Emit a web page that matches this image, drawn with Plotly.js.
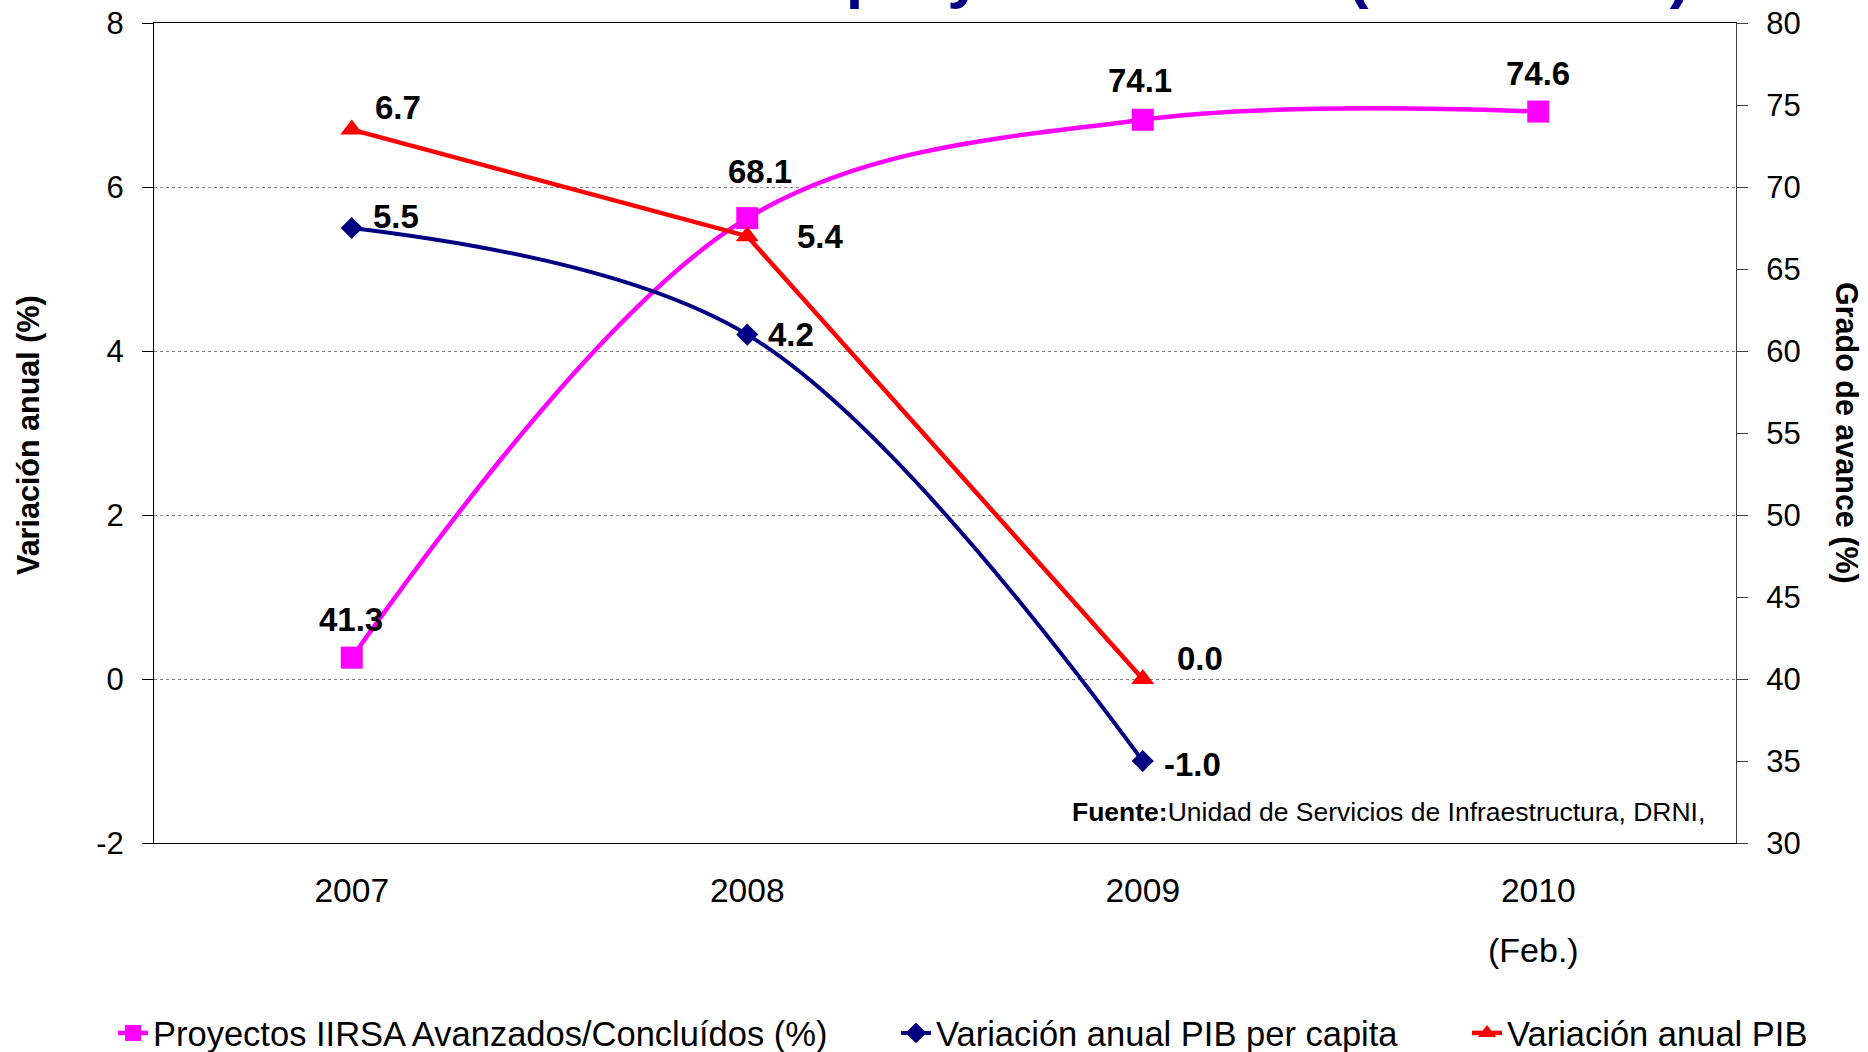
<!DOCTYPE html>
<html>
<head>
<meta charset="utf-8">
<script src="https://cdn.plot.ly/plotly-3.0.1.min.js"></script>
<style>
  html, body { margin: 0; padding: 0; background: #ffffff; }
  #chart { width: 1868px; height: 1052px; }
</style>
</head>
<body>
<div id="chart"></div>
<script>
// Years on the category axis
const years = ['2007', '2008', '2009', '2010'];

// Share of IIRSA projects advanced or concluded (%), right axis
const iirsaAvance = [41.3, 68.1, 74.1, 74.6];
// Annual change in GDP per capita (%), left axis
const pibPerCapita = [5.5, 4.2, -1.0];
// Annual change in GDP (%), left axis
const pibVariacion = [6.7, 5.4, 0.0];

// Axis ticks
const leftTicks = [-2, 0, 2, 4, 6, 8];
const rightTicks = [30, 35, 40, 45, 50, 55, 60, 65, 70, 75, 80];

const seriesNames = [
  'Proyectos IIRSA Avanzados/Concluídos (%)',
  'Variación anual PIB per capita',
  'Variación anual PIB'
];

const FONT = 'Liberation Sans, Arial, Helvetica, sans-serif';
const MAGENTA = '#FF00FF';
const NAVY = '#000080';
const RED = '#FF0000';

// Plot box in pixels (used to turn pixel positions into paper fractions)
const W = 1868, H = 1052;
const M = { l: 154, r: 132, t: 23, b: 209 };
const PW = W - M.l - M.r;
const PH = H - M.t - M.b;
const px = x => (x - M.l) / PW;
const py = y => (H - M.b - y) / PH;

const traces = [
  {
    x: years, y: iirsaAvance, name: seriesNames[0], yaxis: 'y2',
    type: 'scatter', mode: 'lines+markers',
    line: { color: MAGENTA, width: 4.5, shape: 'spline', smoothing: 1 },
    marker: { symbol: 'square', size: 22, color: MAGENTA },
    legend: 'legend'
  },
  {
    x: years.slice(0, pibPerCapita.length), y: pibPerCapita, name: seriesNames[1], yaxis: 'y',
    type: 'scatter', mode: 'lines+markers',
    line: { color: NAVY, width: 4, shape: 'spline', smoothing: 1 },
    marker: { symbol: 'diamond', size: 17, color: NAVY },
    legend: 'legend2'
  },
  {
    x: years.slice(0, pibVariacion.length), y: pibVariacion, name: seriesNames[2], yaxis: 'y',
    type: 'scatter', mode: 'lines+markers',
    line: { color: RED, width: 4.5 },
    marker: { symbol: 'triangle-up', size: 20, color: RED },
    legend: 'legend3'
  }
];

// Value labels: pixel offsets from each point (x position = category index)
const labelFont = { family: FONT, size: 33, color: '#000000' };
function valueLabels(values, yref, offsets) {
  return values.map((v, i) => ({
    x: i, y: v, xref: 'x', yref: yref,
    text: '<b>' + v.toFixed(1) + '</b>',
    showarrow: false, font: labelFont,
    xshift: offsets[i][0], yshift: offsets[i][1]
  }));
}

const annotations = []
  .concat(valueLabels(iirsaAvance, 'y2', [[-1, 38], [13, 47], [-3, 39], [0, 38]]))
  .concat(valueLabels(pibPerCapita, 'y', [[44, 12], [44, 0], [50, -3]]))
  .concat(valueLabels(pibVariacion, 'y', [[46, 22], [73, 0], [57, 21]]))
  .concat([
    {
      // headline, mostly above the page edge
      text: '<b>Crecimiento del PIB vs. proyectos IIRSA (2007-2010)</b>',
      xref: 'paper', yref: 'paper', x: px(1693), y: py(11),
      xanchor: 'right', yanchor: 'bottom', showarrow: false,
      font: { family: FONT, size: 63, color: NAVY }
    },
    {
      text: '<b>Variación anual (%)</b>',
      xref: 'paper', yref: 'paper', x: px(28), y: py(435),
      xanchor: 'center', yanchor: 'middle', textangle: -90, showarrow: false,
      font: { family: FONT, size: 30.5, color: '#000000' }
    },
    {
      text: '<b>Grado de avance (%)</b>',
      xref: 'paper', yref: 'paper', x: px(1847), y: py(433),
      xanchor: 'center', yanchor: 'middle', textangle: 90, showarrow: false,
      font: { family: FONT, size: 30.5, color: '#000000' }
    },
    {
      text: '<b>Fuente:</b>Unidad de Servicios de Infraestructura, DRNI,',
      xref: 'paper', yref: 'paper', x: px(1707), y: py(812),
      xanchor: 'right', yanchor: 'middle', showarrow: false,
      font: { family: FONT, size: 26.5, color: '#000000' }
    },
    {
      text: '(Feb.)',
      xref: 'x', yref: 'paper', x: years.length - 1, y: py(950), xshift: -5,
      xanchor: 'center', yanchor: 'middle', showarrow: false,
      font: { family: FONT, size: 34, color: '#000000' }
    }
  ]);

function legendAt(left) {
  return {
    orientation: 'h', xref: 'container', yref: 'container',
    x: left / W, y: 1 - 1033 / H, xanchor: 'left', yanchor: 'middle',
    bgcolor: 'rgba(0,0,0,0)', borderwidth: 0,
    font: { family: FONT, size: 34.5, color: '#000000' }
  };
}

const layout = {
  width: W, height: H,
  margin: { l: M.l, r: M.r, t: M.t, b: M.b, pad: 0 },
  paper_bgcolor: '#ffffff', plot_bgcolor: '#ffffff',
  font: { family: FONT, color: '#000000' },
  showlegend: true,
  legend: legendAt(113),
  legend2: legendAt(896),
  legend3: legendAt(1467),
  xaxis: {
    type: 'category', categoryarray: years, range: [-0.5, 3.5],
    showgrid: false, zeroline: false,
    showline: true, linecolor: '#000000', linewidth: 1, mirror: true,
    ticks: '', ticklabelstandoff: 18,
    tickfont: { family: FONT, size: 33.5, color: '#000000' },
    fixedrange: true
  },
  yaxis: {
    overlaying: 'y2', side: 'left', anchor: 'x',
    range: [-2, 8], tickmode: 'array',
    tickvals: leftTicks, ticktext: leftTicks.map(String),
    showgrid: true, gridcolor: '#808080', griddash: 'dot', gridwidth: 1,
    zeroline: false,
    showline: true, linecolor: '#000000', linewidth: 1,
    ticks: 'outside', ticklen: 11, tickcolor: '#000000', tickwidth: 1,
    ticklabelstandoff: 12,
    tickfont: { family: FONT, size: 31, color: '#000000' },
    fixedrange: true
  },
  yaxis2: {
    side: 'right', anchor: 'x',
    range: [30, 80], tickmode: 'array',
    tickvals: rightTicks, ticktext: rightTicks.map(String),
    showgrid: false, zeroline: false,
    showline: true, linecolor: '#404040', linewidth: 1,
    ticks: 'outside', ticklen: 11, tickcolor: '#404040', tickwidth: 1,
    ticklabelstandoff: 12,
    tickfont: { family: FONT, size: 31, color: '#000000' },
    fixedrange: true
  },
  annotations: annotations
};

Plotly.newPlot('chart', traces, layout, { displayModeBar: false, staticPlot: true });
</script>
</body>
</html>
